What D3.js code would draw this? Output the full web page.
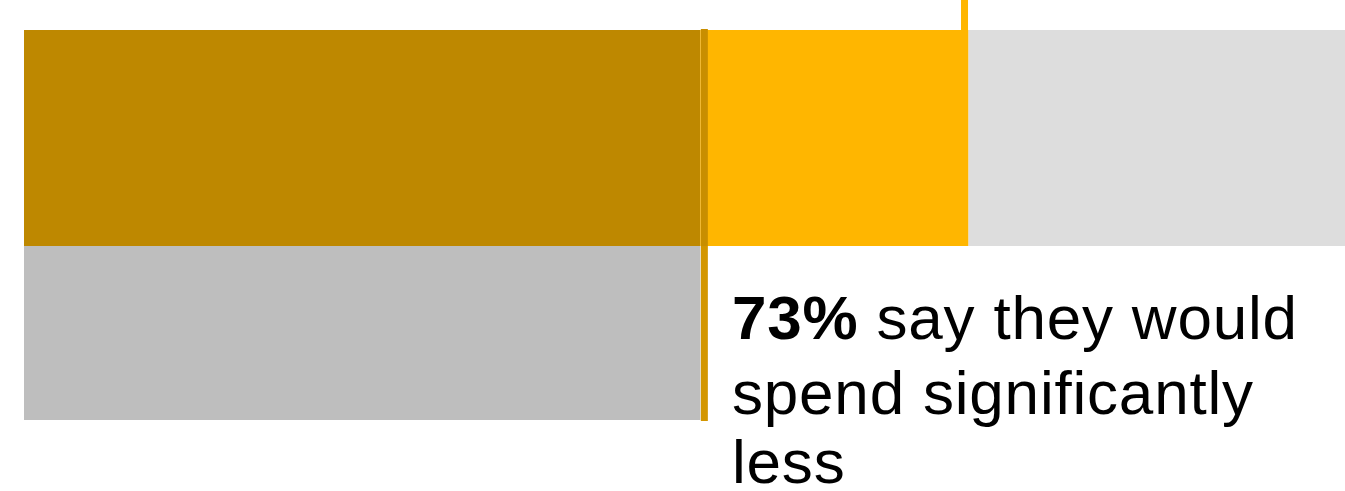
<!DOCTYPE html>
<html>
<head>
<meta charset="utf-8">
<script src="https://cdn.jsdelivr.net/npm/d3@7"></script>
<style>
  html, body { margin: 0; padding: 0; background: #fff; }
  svg { display: block; }
</style>
</head>
<body>
<div id="chart"></div>
<script>
// top bar segments (share of total, %)
var topSegments = ["much less", "somewhat less", "rest"];
var topValues = [51.2, 20.3, 28.5];
var topColors = ["#BE8800", "#FFB600", "#DDDDDD"];

// bottom (comparison) bar
var bottomValues = [51.2];
var bottomColors = ["#BEBEBE"];

var rows = ["top", "bottom"];

// callout text
var calloutBold = "73%";
var calloutLines = [" say they would", "spend significantly", "less"];

var width = 1345, height = 491;

var svg = d3.select("#chart")
    .append("svg")
    .attr("width", width)
    .attr("height", height);

var x = d3.scaleLinear()
    .domain([0, 100])
    .range([24, 1345]);

var y = d3.scaleOrdinal()
    .domain(rows)
    .range([30, 246]);

var barH = { top: 216, bottom: 174 };

// stacked top bar
var offsets = [];
topValues.reduce(function(acc, v, i){ offsets[i] = acc; return acc + v; }, 0);

svg.append("g")
    .selectAll("rect")
    .data(topValues)
    .enter()
    .append("rect")
    .attr("x", function(d, i){ return x(offsets[i]); })
    .attr("y", y("top"))
    .attr("width", function(d, i){ return x(offsets[i] + d) - x(offsets[i]); })
    .attr("height", barH.top)
    .attr("fill", function(d, i){ return topColors[i]; });

// bottom bar
svg.append("g")
    .selectAll("rect")
    .data(bottomValues)
    .enter()
    .append("rect")
    .attr("x", x(0))
    .attr("y", y("bottom"))
    .attr("width", function(d){ return x(d) - x(0); })
    .attr("height", barH.bottom)
    .attr("fill", function(d, i){ return bottomColors[i]; });

// marker lines
var markA = topValues[0];
var markB = topValues[0] + topValues[1];

svg.append("rect")
    .attr("x", x(markA) + 0.5)
    .attr("y", 29)
    .attr("width", 7)
    .attr("height", y("bottom") - 29)
    .attr("fill", "#C88E00");

svg.append("rect")
    .attr("x", x(markA) + 0.5)
    .attr("y", y("bottom"))
    .attr("width", 7)
    .attr("height", barH.bottom + 1)
    .attr("fill", "#D39600");

svg.append("rect")
    .attr("x", x(markB) - 7.5)
    .attr("y", 0)
    .attr("width", 7)
    .attr("height", 30)
    .attr("fill", "#FFB600");

// callout
var font = "'Liberation Sans', Arial, Helvetica, sans-serif";

var txt = svg.append("text")
    .attr("x", 732)
    .attr("y", 339)
    .style("font-family", font)
    .style("font-size", "62px")
    .style("letter-spacing", "0.8px")
    .attr("fill", "#000");

txt.append("tspan")
    .style("font-weight", "bold")
    .text(calloutBold);
txt.append("tspan")
    .text(calloutLines[0]);

calloutLines.slice(1).forEach(function(line, i){
    svg.append("text")
        .attr("x", 732)
        .attr("y", 414 + i * 69)
        .style("font-family", font)
        .style("font-size", "62px")
        .style("letter-spacing", "0.8px")
        .attr("fill", "#000")
        .text(line);
});
</script>
</body>
</html>
